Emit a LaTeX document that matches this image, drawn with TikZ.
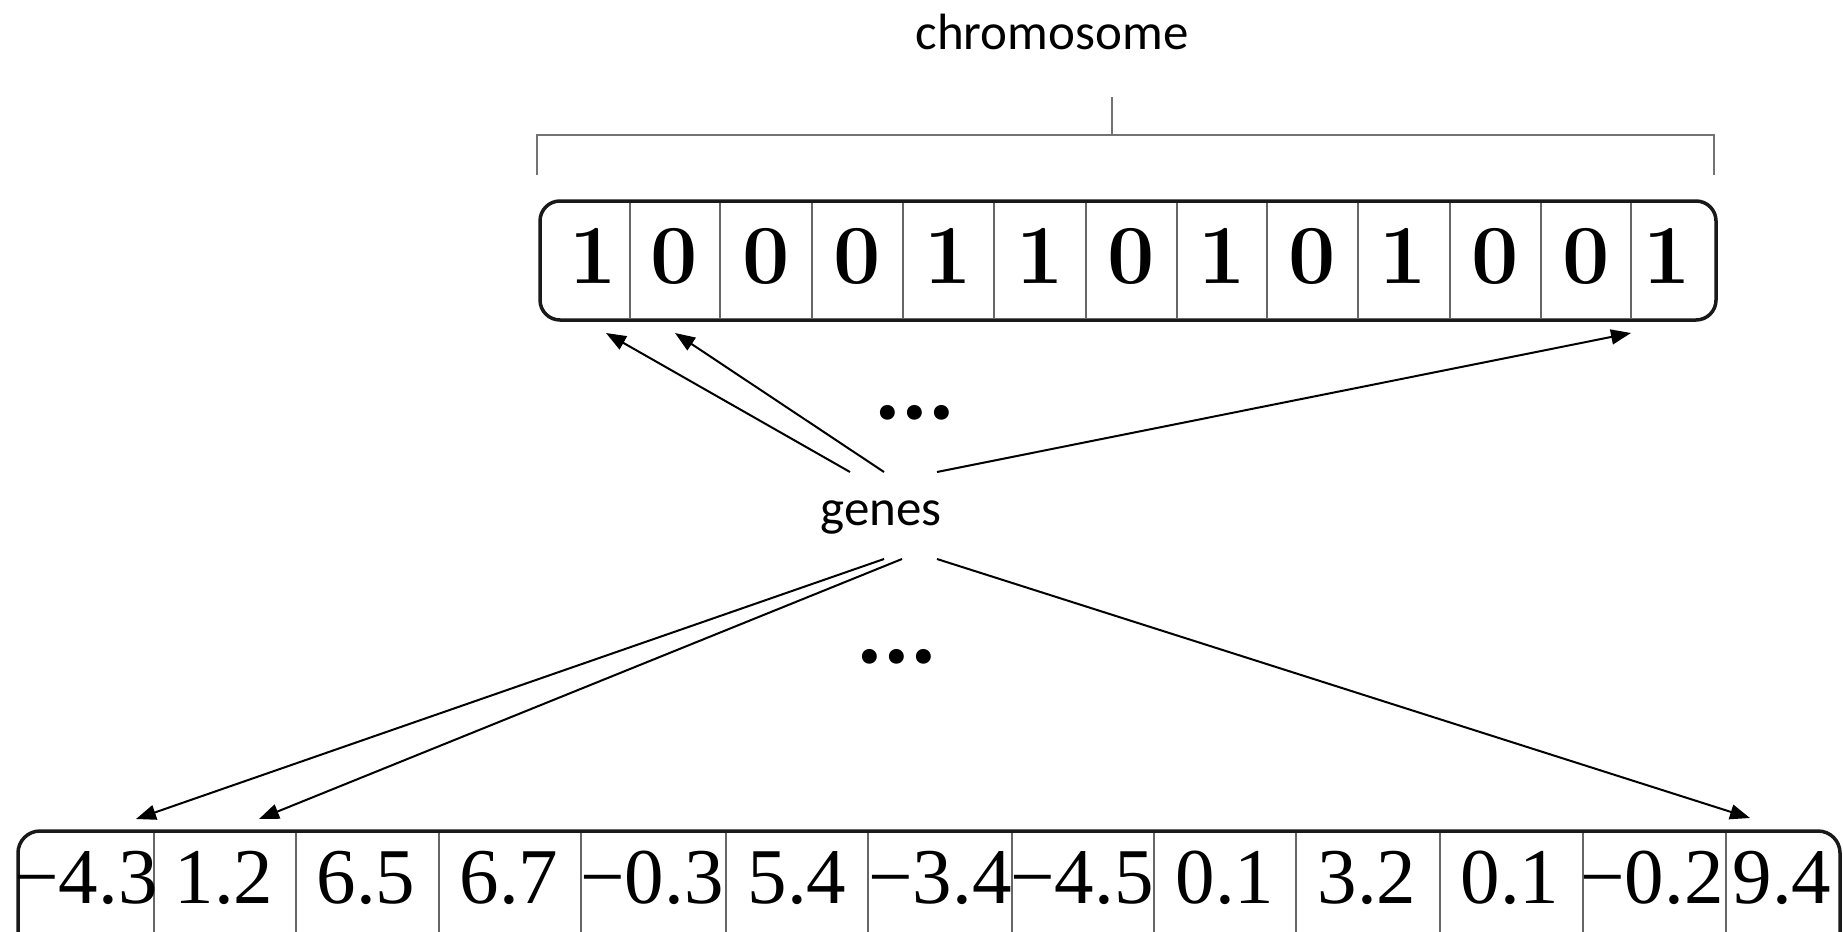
\documentclass[tikz,border=0pt]{standalone}
\usepackage{fontspec}
\setmainfont{Latin Modern Roman}
\newfontfamily\calibri{Carlito}
\newfontfamily\numfont{Liberation Serif}
\usetikzlibrary{arrows.meta}
\tikzset{
  lbl/.style={inner sep=0pt, anchor=base, font=\calibri\fontsize{51}{51}\selectfont},
  dotstyle/.style={inner sep=0pt, anchor=base, font=\calibri\bfseries\fontsize{100}{100}\selectfont},
  topdigit/.style={inner sep=0pt, anchor=base, font=\bfseries\fontsize{84}{84}\selectfont},
  botnum/.style={inner sep=0pt, anchor=base, font=\numfont\fontsize{79}{79}\selectfont},
  outerbox/.style={draw=black!90, line width=3.5pt},
  divider/.style={draw=black!60, line width=2pt},
  bracketline/.style={draw=black!55, line width=2.5pt},
  arr/.style={-{Triangle[length=20pt,width=15pt]}, line width=2pt, black}
}
\begin{document}
\begin{tikzpicture}[x=1pt,y=-1pt]
\clip (0,0) rectangle (1843,931);
\fill[white] (0,0) rectangle (1843,931);

% bracket and title
\draw[bracketline] (537,175) -- (537,135) -- (1714,135) -- (1714,175);
\draw[bracketline] (1112,135) -- (1112,97);
\node[lbl] (chrom) at (1052,50) {chromosome};

% top chromosome box
\foreach \x in {629.5,719.5,812,903,994,1086,1176.5,1267,1357.5,1449.5,1540.5,1631}
  \draw[divider] (\x,203) -- (\x,318);
\draw[outerbox, rounded corners=20pt] (540,201) rectangle (1716,320);
\foreach \i/\x/\d in {1/593/1,2/674.5/0,3/765.75/0,4/857.5/0,5/948.5/1,6/1040/1,7/1131.25/0,
  8/1221.75/1,9/1312.25/0,10/1403.5/1,11/1495/0,12/1585.75/0,13/1667/1}
  \node[topdigit] (t\i) at (\x,283) {\d};

% bottom box
\foreach \x in {153.5,295.5,438.5,581,726,868,1011.5,1153.5,1296,1440,1583,1726}
  \draw[divider] (\x,833) -- (\x,935);
\draw[outerbox, rounded corners=22pt] (18,831) rectangle (1840,990);
\foreach \i/\x/\d in {1/86/−4.3,2/224/1.2,3/366/6.5,4/509/6.7,5/652/−0.3,6/797/5.4,7/940/−3.4,
  8/1082/−4.5,9/1225/0.1,10/1367/3.2,11/1510/0.1,12/1652/−0.2,13/1782/9.4}
  \node[botnum] (b\i) at (\x,903) {\d};

% genes and dots
\node[lbl] (genes) at (881,525) {genes};
\node[dotstyle] (dotsA) at (915,419) {...};
\node[dotstyle] (dotsB) at (897,663) {...};

% arrow end points
\coordinate (s1) at (850,472);
\coordinate (s2) at (884,472);
\coordinate (s3) at (937,472);
\coordinate (s4) at (884,559);
\coordinate (s5) at (902,559);
\coordinate (s6) at (937,559);
\coordinate (e1) at (606,333);
\coordinate (e2) at (675,333);
\coordinate (e3) at (1631,333);
\coordinate (e4) at (136,819);
\coordinate (e5) at (259,819);
\coordinate (e6) at (1750,818);

\draw[arr] (s1) -- (e1);
\draw[arr] (s2) -- (e2);
\draw[arr] (s3) -- (e3);
\draw[arr] (s4) -- (e4);
\draw[arr] (s5) -- (e5);
\draw[arr] (s6) -- (e6);
\end{tikzpicture}
\end{document}
